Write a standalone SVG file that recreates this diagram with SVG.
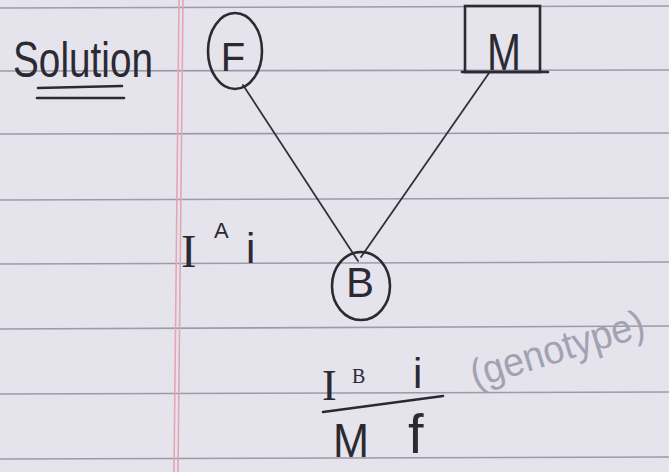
<svg xmlns="http://www.w3.org/2000/svg" width="669" height="472" viewBox="0 0 669 472">
<style>
.ink{fill:none;stroke:#2b2a33;stroke-width:2.6;stroke-linecap:round}
.thin{fill:none;stroke:#33323a;stroke-width:1.8;stroke-linecap:round}
.rule{stroke:#9c9ba6;stroke-width:1.6}
.margin{stroke:#e2a6b4;stroke-width:1.6}
.t{font-family:"Liberation Sans",Arial,sans-serif;fill:#2b2a33}
.s{font-family:"Liberation Serif","Times New Roman",serif;fill:#2b2a33}
.pencil{font-family:"Liberation Sans",Arial,sans-serif;fill:#a3a2b2}
</style>
<rect width="669" height="472" fill="#e5e4ed"/>
<g id="paper">
<line class="rule" x1="0" y1="8" x2="669" y2="6"/>
<line class="rule" x1="0" y1="71" x2="669" y2="70"/>
<line class="rule" x1="0" y1="134" x2="669" y2="133"/>
<line class="rule" x1="0" y1="200" x2="669" y2="198"/>
<line class="rule" x1="0" y1="264" x2="669" y2="262"/>
<line class="rule" x1="0" y1="329" x2="669" y2="326"/>
<line class="rule" x1="0" y1="394" x2="669" y2="392"/>
<line class="rule" x1="0" y1="459" x2="669" y2="457"/>
<line class="margin" x1="179" y1="0" x2="174" y2="472"/>
<line class="margin" x1="183" y1="0" x2="178" y2="472"/>
</g>
<g id="title">
<text class="t" x="13" y="77" font-size="50" textLength="140" lengthAdjust="spacingAndGlyphs">Solution</text>
<line class="ink" x1="38" y1="88" x2="122" y2="86"/>
<line class="ink" x1="37" y1="98" x2="124" y2="98"/>
</g>
<g id="connectors">
<line class="thin" x1="243" y1="85" x2="358" y2="261"/>
<line class="thin" x1="489" y1="73" x2="361" y2="257"/>
</g>
<g id="node-F">
<ellipse class="ink" cx="235" cy="51" rx="27" ry="38"/>
<text class="t" x="233" y="71" font-size="40" text-anchor="middle">F</text>
</g>
<g id="node-M">
<rect class="ink" x="465" y="6" width="75" height="66"/>
<line class="ink" x1="462" y1="72" x2="548" y2="72"/>
<text class="t" x="487" y="70" font-size="52" textLength="34" lengthAdjust="spacingAndGlyphs">M</text>
</g>
<g id="node-B">
<ellipse class="ink" cx="361" cy="286" rx="29" ry="34"/>
<text class="t" x="360" y="297" font-size="42" text-anchor="middle">B</text>
</g>
<g id="label-IAi">
<text class="s" x="181" y="267" font-size="46">I</text>
<text class="t" x="214" y="238" font-size="22">A</text>
<text class="t" x="246" y="263" font-size="42">i</text>
</g>
<g id="label-genotype">
<text class="s" x="322" y="400" font-size="44">I</text>
<text class="s" x="352" y="383" font-size="20">B</text>
<text class="t" x="413" y="388" font-size="42">i</text>
<line class="ink" x1="323" y1="412" x2="443" y2="396"/>
<text class="t" x="333" y="457" font-size="48" textLength="36" lengthAdjust="spacingAndGlyphs">M</text>
<text class="t" x="408" y="453" font-size="56">f</text>
<text class="pencil" x="475" y="388" font-size="40" transform="rotate(-17 475 388)" textLength="180" lengthAdjust="spacingAndGlyphs">(genotype)</text>
</g>
</svg>
